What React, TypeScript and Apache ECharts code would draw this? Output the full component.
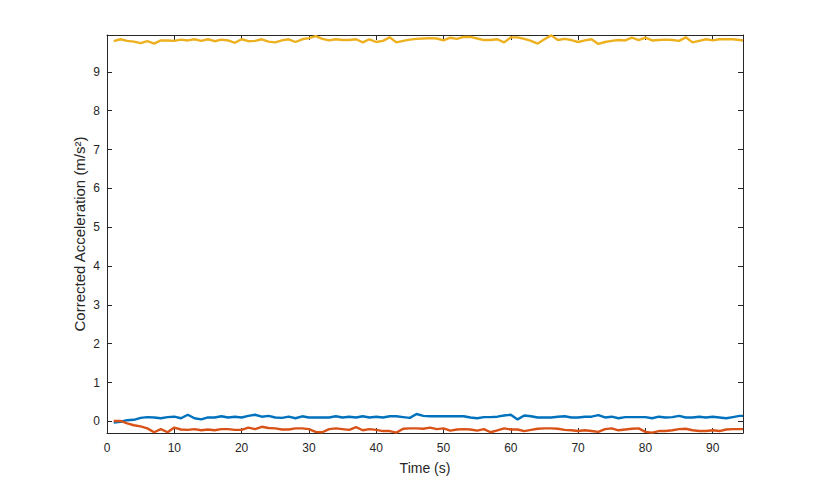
import { useEffect, useRef } from 'react'
import * as echarts from 'echarts'

// sample times (s)
const TIME = [
  1, 2, 3, 4, 5, 6, 7, 8, 9, 10, 11, 12, 13, 14, 15, 16, 17, 18, 19, 20,
  21, 22, 23, 24, 25, 26, 27, 28, 29, 30, 31, 32, 33, 34, 35, 36, 37, 38, 39, 40,
  41, 42, 43, 44, 45, 46, 47, 48, 49, 50, 51, 52, 53, 54, 55, 56, 57, 58, 59, 60,
  61, 62, 63, 64, 65, 66, 67, 68, 69, 70, 71, 72, 73, 74, 75, 76, 77, 78, 79, 80,
  81, 82, 83, 84, 85, 86, 87, 88, 89, 90, 91, 92, 93, 94, 94.5,
]

// corrected acceleration, x axis (blue)
const ACC_X = [
  -0.03, -0.01, 0.03, 0.04, 0.09, 0.11, 0.1, 0.08, 0.11, 0.12,
  0.08, 0.17, 0.08, 0.05, 0.1, 0.1, 0.13, 0.1, 0.12, 0.1,
  0.14, 0.17, 0.12, 0.14, 0.1, 0.09, 0.12, 0.08, 0.13, 0.1,
  0.1, 0.1, 0.1, 0.13, 0.1, 0.12, 0.1, 0.13, 0.1, 0.12,
  0.1, 0.13, 0.13, 0.11, 0.09, 0.19, 0.14, 0.13, 0.13, 0.13,
  0.13, 0.13, 0.13, 0.1, 0.08, 0.11, 0.11, 0.12, 0.15, 0.17,
  0.05, 0.15, 0.13, 0.1, 0.1, 0.1, 0.12, 0.13, 0.1, 0.1,
  0.12, 0.12, 0.16, 0.1, 0.12, 0.08, 0.11, 0.11, 0.11, 0.11,
  0.08, 0.12, 0.1, 0.11, 0.14, 0.1, 0.1, 0.12, 0.1, 0.12,
  0.1, 0.08, 0.11, 0.14, 0.14,
]

// y axis (red)
const ACC_Y = [
  0.01, 0.01, -0.05, -0.1, -0.13, -0.18, -0.28, -0.2, -0.28, -0.16,
  -0.21, -0.22, -0.2, -0.23, -0.21, -0.23, -0.2, -0.2, -0.22, -0.22,
  -0.16, -0.2, -0.14, -0.17, -0.18, -0.21, -0.21, -0.18, -0.18, -0.2,
  -0.27, -0.28, -0.2, -0.18, -0.2, -0.22, -0.15, -0.23, -0.2, -0.22,
  -0.25, -0.25, -0.29, -0.19, -0.18, -0.18, -0.19, -0.16, -0.2, -0.18,
  -0.24, -0.21, -0.2, -0.21, -0.24, -0.2, -0.28, -0.23, -0.18, -0.21,
  -0.21, -0.25, -0.22, -0.19, -0.18, -0.18, -0.19, -0.22, -0.23, -0.25,
  -0.23, -0.25, -0.27, -0.2, -0.18, -0.23, -0.21, -0.19, -0.18, -0.27,
  -0.29, -0.25, -0.25, -0.23, -0.2, -0.19, -0.23, -0.25, -0.25, -0.23,
  -0.25, -0.21, -0.2, -0.2, -0.2,
]

// z axis (yellow)
const ACC_Z = [
  9.79, 9.84, 9.8, 9.78, 9.74, 9.79, 9.73, 9.81, 9.81, 9.8,
  9.83, 9.81, 9.84, 9.8, 9.84, 9.79, 9.83, 9.81, 9.75, 9.84,
  9.79, 9.8, 9.84, 9.78, 9.76, 9.81, 9.84, 9.77, 9.84, 9.87,
  9.92, 9.85, 9.81, 9.84, 9.82, 9.82, 9.84, 9.76, 9.84, 9.77,
  9.8, 9.89, 9.76, 9.8, 9.83, 9.85, 9.86, 9.87, 9.86, 9.81,
  9.88, 9.85, 9.9, 9.9, 9.86, 9.82, 9.82, 9.84, 9.76, 9.89,
  9.89, 9.85, 9.8, 9.73, 9.84, 9.94, 9.82, 9.85, 9.82, 9.77,
  9.81, 9.84, 9.72, 9.77, 9.8, 9.82, 9.81, 9.88, 9.82, 9.88,
  9.81, 9.82, 9.83, 9.82, 9.8, 9.89, 9.76, 9.8, 9.84, 9.81,
  9.84, 9.84, 9.84, 9.82, 9.81,
]

const X_TICKS = [0, 10, 20, 30, 40, 50, 60, 70, 80, 90]
const Y_TICKS = [0, 1, 2, 3, 4, 5, 6, 7, 8, 9]

const COLORS = ['#0072BD', '#D95319', '#EDB120']
const AXIS_COLOR = '#262626'
const FONT = '"Liberation Sans", Arial, Helvetica, sans-serif'

export default function App() {
  const elRef = useRef<HTMLDivElement>(null)

  useEffect(() => {
    if (!elRef.current) return
    const chart = echarts.init(elRef.current, null, { renderer: 'svg' })

    // box-style axes: lines stay on the grid edges, ticks point inwards
    const axisLine = { show: true, onZero: false, lineStyle: { color: AXIS_COLOR, width: 1 } }
    const xTick = { show: true, inside: true, length: 5, customValues: X_TICKS, lineStyle: { color: AXIS_COLOR } }
    const yTick = { show: true, inside: true, length: 5, customValues: Y_TICKS, lineStyle: { color: AXIS_COLOR } }
    const xRange = { type: 'value' as const, min: 0, max: 94.5 }
    const yRange = { type: 'value' as const, min: -0.3, max: 9.95 }

    const series = [ACC_X, ACC_Y, ACC_Z].map((vals, i) => ({
      type: 'line' as const,
      data: TIME.map((t, j) => [t, vals[j]]),
      showSymbol: false,
      symbol: 'none',
      lineStyle: { color: COLORS[i], width: 2.4 },
      xAxisIndex: 0,
      yAxisIndex: 0,
      z: 2 + i,
    }))

    chart.setOption({
      animation: false,
      backgroundColor: '#ffffff',
      textStyle: { fontFamily: FONT },
      grid: { left: 107, top: 35, right: 78, bottom: 53, containLabel: false },
      xAxis: [
        {
          ...xRange,
          position: 'bottom',
          axisLine,
          axisTick: xTick,
          splitLine: { show: false },
          axisLabel: { customValues: X_TICKS, color: AXIS_COLOR, fontSize: 12, margin: 9, fontFamily: FONT },
          name: 'Time (s)',
          nameLocation: 'middle',
          nameGap: 28,
          nameTextStyle: { color: AXIS_COLOR, fontSize: 14, fontFamily: FONT },
        },
        {
          ...xRange,
          position: 'top',
          axisLine,
          axisTick: xTick,
          splitLine: { show: false },
          axisLabel: { show: false },
        },
      ],
      yAxis: [
        {
          ...yRange,
          position: 'left',
          axisLine,
          axisTick: yTick,
          splitLine: { show: false },
          axisLabel: { customValues: Y_TICKS, color: AXIS_COLOR, fontSize: 12, margin: 7, fontFamily: FONT },
          name: 'Corrected Acceleration (m/s²)',
          nameLocation: 'middle',
          nameGap: 20,
          nameMoveOverlap: false,
          nameTextStyle: { color: AXIS_COLOR, fontSize: 15, fontFamily: FONT },
        },
        {
          ...yRange,
          position: 'right',
          axisLine,
          axisTick: yTick,
          splitLine: { show: false },
          axisLabel: { show: false },
        },
      ],
      series,
    })

    return () => {
      chart.dispose()
    }
  }, [])

  return (
    <div
      ref={elRef}
      style={{ position: 'fixed', left: 0, top: 0, width: 821, height: 486 }}
    />
  )
}
